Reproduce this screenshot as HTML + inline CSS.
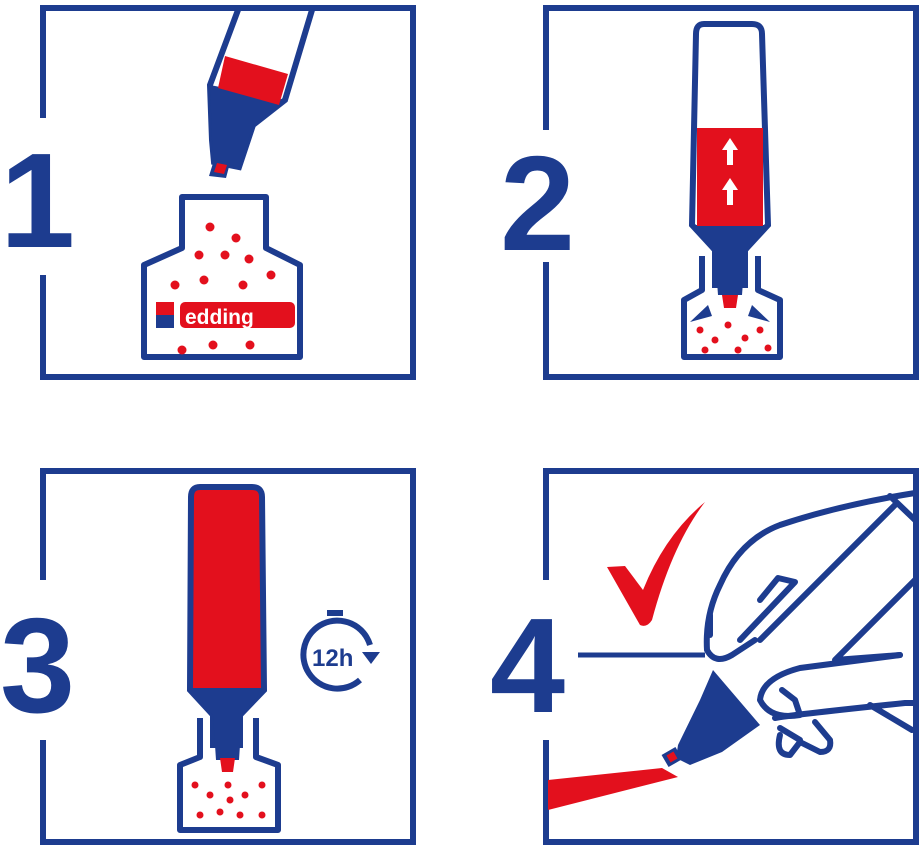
<!DOCTYPE html>
<html><head><style>html,body{margin:0;padding:0;background:#fff}svg{display:block}</style></head><body>
<svg width="924" height="850" viewBox="0 0 924 850" xmlns="http://www.w3.org/2000/svg">
<defs>
<style>.b{fill:none;stroke:#1d3c8f;stroke-width:6}.bf{fill:#1d3c8f}.r{fill:#e3101d}.n{font-family:"Liberation Sans",sans-serif;font-weight:bold;fill:#1d3c8f}</style>
</defs>
<!-- Panel frames -->
<path class="b" d="M43 118 V8 H413 V377 H43 V275"/>
<path class="b" d="M546 130 V8 H916 V377 H546 V262"/>
<path class="b" d="M43 580 V471 H413 V842 H43 V740"/>
<path class="b" d="M546 580 V471 H916 V842 H546 V740"/>
<!-- numerals -->
<text class="n" x="0" y="247" font-size="135">1</text>
<text class="n" x="500" y="250" font-size="135">2</text>
<text class="n" x="0" y="712" font-size="135">3</text>
<text class="n" x="490" y="712" font-size="135">4</text>

<!-- Panel 1 marker -->
<path class="b" d="M238 10 L210 85 L212 140 L214 162 L239 167 L253 125 L285 100 L312 10"/>
<path class="bf" d="M210 85 L285 100 L253 125 L239 167 L214 162 L212 140 Z"/>
<polygon class="r" points="225,56 288,74 279,105 218,88"/>
<polygon class="bf" points="214,160 230,163 226,178 209,176"/>
<polygon class="r" points="217,163 227,165 224,174 214,172"/>
<!-- bottle 1 -->
<path class="b" d="M182 197 H266 V248 L300 265 V357 H144 V265 L182 248 Z" stroke-linejoin="round"/>
<g class="r">
<circle cx="210" cy="227" r="4.5"/><circle cx="236" cy="238" r="4.5"/><circle cx="199" cy="255" r="4.5"/><circle cx="225" cy="255" r="4.5"/><circle cx="249" cy="259" r="4.5"/><circle cx="204" cy="280" r="4.5"/><circle cx="243" cy="285" r="4.5"/><circle cx="271" cy="275" r="4.5"/><circle cx="175" cy="285" r="4.5"/><circle cx="182" cy="350" r="4.5"/><circle cx="213" cy="345" r="4.5"/><circle cx="250" cy="345" r="4.5"/>
<rect x="180" y="302" width="115" height="26" rx="5"/>
</g>
<rect x="156" y="302" width="18" height="26" class="r"/>
<rect x="156" y="315" width="18" height="13" class="bf"/>
<text x="185" y="324" font-family="Liberation Sans,sans-serif" font-weight="bold" font-size="21" fill="#fff">edding</text>

<!-- Panel 2 marker -->
<path class="b" d="M704 24 H752 Q762 24 762 34 L768 225 L745 250 L745 285 L715 285 L715 250 L692 225 L696 34 Q696 24 704 24 Z"/>
<path class="bf" d="M692 225 L768 225 L745 255 L742 295 L718 295 L715 255 Z"/>
<rect x="697" y="128" width="66" height="98" class="r"/>
<g fill="#fff"><polygon points="730,138 738,150 733,150 733,165 727,165 727,150 722,150"/><polygon points="730,178 738,190 733,190 733,205 727,205 727,190 722,190"/></g>
<polygon class="r" points="722,295 738,295 736,308 724,308"/>
<path class="b" d="M702 256 V290 L684 300 V357 H780 V300 L758 290 V256" stroke-linejoin="round"/>
<g class="bf"><polygon points="690,322 708,305 712,316"/><polygon points="770,322 752,305 748,316"/></g>
<g class="r"><circle cx="700" cy="330" r="3.5"/><circle cx="715" cy="340" r="3.5"/><circle cx="728" cy="325" r="3.5"/><circle cx="745" cy="338" r="3.5"/><circle cx="760" cy="330" r="3.5"/><circle cx="705" cy="350" r="3.5"/><circle cx="738" cy="350" r="3.5"/><circle cx="768" cy="348" r="3.5"/></g>

<!-- Panel 3 marker -->
<path d="M200 487 H252 Q262 487 262 497 L264 690 L240 715 L240 745 L213 745 L213 715 L190 690 L191 497 Q191 487 200 487 Z" class="r" stroke="#1d3c8f" stroke-width="6"/>
<path class="bf" d="M190 688 L264 688 L242 715 L239 760 L216 760 L213 715 Z"/>
<polygon class="r" points="220,758 235,758 233,772 222,772"/>
<path class="b" d="M200 718 V757 L180 765 V830 H278 V765 L256 757 V718" stroke-linejoin="round"/>
<g class="r"><circle cx="195" cy="785" r="3.5"/><circle cx="210" cy="795" r="3.5"/><circle cx="228" cy="785" r="3.5"/><circle cx="245" cy="795" r="3.5"/><circle cx="262" cy="785" r="3.5"/><circle cx="200" cy="815" r="3.5"/><circle cx="220" cy="812" r="3.5"/><circle cx="240" cy="815" r="3.5"/><circle cx="262" cy="815" r="3.5"/><circle cx="230" cy="800" r="3.5"/></g>
<!-- timer -->
<path class="b" d="M370 645 A34 34 0 1 0 360 680" stroke-width="5"/>
<rect x="327" y="610" width="16" height="6" class="bf"/>
<polygon class="bf" points="362,652 380,652 371,664"/>
<text x="312" y="666" font-family="Liberation Sans,sans-serif" font-weight="bold" font-size="24" fill="#1d3c8f">12h</text>

<!-- Panel 4 -->
<path class="r" d="M607 567 L625 566 L643 590 Q665 535 705 502 Q672 545 652 620 Q647 628 640 625 Z"/>
<line x1="578" y1="655" x2="705" y2="655" stroke="#1d3c8f" stroke-width="5"/>
<polygon class="r" points="548,780 548,810 678,777 662,768"/>
<path class="bf" d="M713 670 L760 725 L722 752 L690 765 L676 758 L678 745 L700 700 Z"/>
<rect x="664" y="750" width="16" height="14" transform="rotate(-30 672 757)" class="bf"/>
<rect x="668" y="753" width="8" height="8" transform="rotate(-30 672 757)" class="r"/>
<g class="b" stroke-width="5" stroke-linejoin="round" stroke-linecap="round">
<path d="M915 493 Q840 505 780 525 Q740 540 720 585 Q705 615 707 650 Q715 665 732 655 L755 640"/>
<path d="M710 635 V615"/>
<path d="M895 505 L770 630 L760 640"/>
<path d="M890 496 L915 520"/>
<path d="M760 600 L778 578 L795 582 L740 640"/>
<path d="M915 580 L835 660 L900 655"/>
<path d="M900 655 Q860 660 800 668 Q762 678 760 700 Q770 720 800 715 L795 700 L782 690"/>
<path d="M775 718 Q790 715 905 703 L915 703"/>
<path d="M870 705 L912 730"/>
<path d="M780 735 Q775 755 790 755 L800 742 L820 752 Q832 752 830 740 L815 722"/>
<path d="M800 740 L780 728"/>
</g>
</svg>
</body></html>
